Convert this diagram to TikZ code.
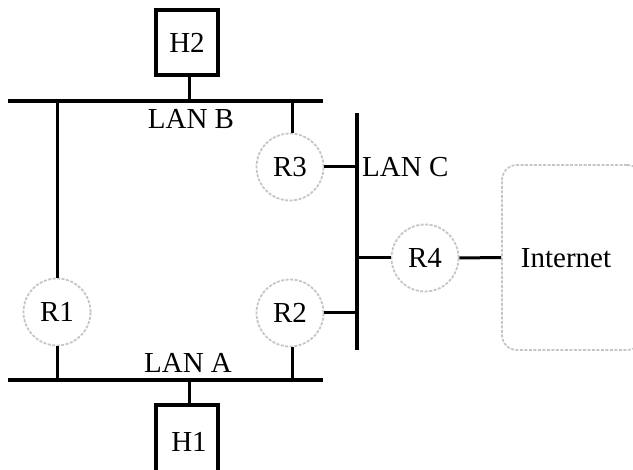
\documentclass[tikz,border=0pt]{standalone}
\usepackage{fontspec}
\setmainfont{Liberation Serif}
\begin{document}
\begin{tikzpicture}[x=1pt,y=-1pt,
  lan/.style={line width=4pt},
  wire/.style={line width=3pt},
  host/.style={draw,line width=3.2pt,minimum width=62pt,minimum height=65pt,inner sep=0pt},
  router/.style={circle,draw=gray!45,line width=1.8pt,dash pattern=on 3pt off 1.5pt,minimum size=67pt,inner sep=0pt},
  lbl/.style={inner sep=0pt,font=\fontsize{29}{35}\selectfont}]
\useasboundingbox (0,0) rectangle (633,470);
\begin{scope}
\clip (0,0) rectangle (633,470);
% hosts
\node[host,lbl] (H2) at (187,42.5) {H2};
\node[host,lbl,minimum height=70pt] (H1) at (187,440) {};
\node[lbl] (H1t) at (189,442) {H1};
% LANs
\coordinate (lbL) at (8,101);
\coordinate (lbR) at (323,101);
\coordinate (laL) at (8,380);
\coordinate (laR) at (323,380);
\coordinate (lcT) at (357,113);
\coordinate (lcB) at (357,350);
\draw[lan] (lbL) -- (lbR);
\draw[lan] (laL) -- (laR);
\draw[lan,line width=3.2pt] (lcT) -- (lcB);
\node[lbl] (LB) at (191,119) {LAN B};
\node[lbl] (LA) at (188,363) {LAN A};
\node[lbl,anchor=west] (LC) at (362,167) {LAN C};
% routers
\node[router,lbl] (R1) at (57,312) {R1};
\node[router,lbl] (R2) at (290,313) {R2};
\node[router,lbl] (R3) at (290,167) {R3};
\node[router,lbl] (R4) at (425,258) {R4};
% internet
\node[draw=gray!45,line width=1.8pt,dash pattern=on 3pt off 1.5pt,rounded corners=15pt,
  minimum width=140pt,minimum height=185pt,inner sep=0pt] (NET) at (572,257.5) {};
\node[lbl] (NETt) at (566,258) {Internet};
% connectors
\coordinate (h2b) at (189,101);
\coordinate (h1t) at (189,380);
\draw[wire] (H2.south -| h2b) -- (h2b);
\draw[wire] (h1t) -- (H1.north -| h1t);
\coordinate (r1t) at (57,101);
\coordinate (r1b) at (57,380);
\draw[wire] (r1t) -- (R1.north);
\draw[wire] (R1.south) -- (r1b);
\coordinate (r3t) at (292,101);
\draw[wire] (r3t) -- (r3t |- R3.north);
\coordinate (r3c) at (357,167);
\draw[wire] (R3.east) -- (r3c);
\coordinate (r2b) at (292,380);
\draw[wire] (r2b |- R2.south) -- (r2b);
\coordinate (r2c) at (357,313);
\draw[wire] (R2.east) -- (r2c);
\coordinate (r4c) at (357,258);
\draw[wire] (r4c) -- (R4.west);
\draw[wire] (R4.east) -- (NET.west);
\end{scope}
\end{tikzpicture}
\end{document}
